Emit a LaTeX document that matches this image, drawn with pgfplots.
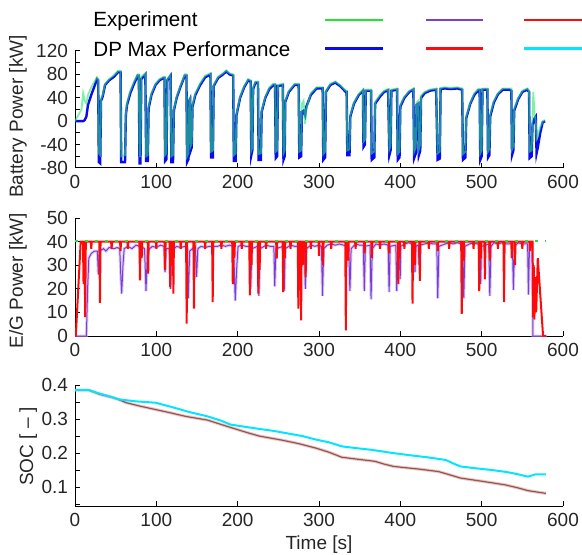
\documentclass[border=0pt]{standalone}
\usepackage{fontspec}
\setmainfont{Liberation Sans}
\usepackage{pgfplots}
\pgfplotsset{compat=1.18}
\usepackage{pgfplotstable}

\definecolor{cgreen}{RGB}{30,230,40}
\definecolor{cgreenb}{RGB}{40,230,110}
\definecolor{cblue}{RGB}{10,10,240}
\definecolor{cpurple}{RGB}{125,60,215}
\definecolor{clav}{RGB}{190,170,240}
\definecolor{cred}{RGB}{255,10,10}
\definecolor{ccyan}{RGB}{0,230,255}
\definecolor{cbrown}{RGB}{150,85,80}
\definecolor{cpink}{RGB}{225,180,180}

\pgfplotstableread{
t b g
0 0 0
8 0 20
10 0 48
12 2 35
14 8 30
16 28 45
20 45 58
24 60 68
27 72 75
28.5 70 72
29.3 -70 -55
31 -72 -58
32 35 38
34 42 45
37 62 64
42 70 72
48 76 79
53 84 86
56 84 86
56.8 -70 -60
61.5 -70 -58
62.5 10 12
64 28 32
68 48 52
72 62 66
77 78 80
78.5 78 80
79.3 -72 -60
80.5 -72 -60
81.5 72 76
86.5 80 82
87.5 -68 -60
89.5 -68 -58
90.5 22 25
94 45 48
99 62 64
104 70 72
109 74 76
110 74 76
110.8 -68 -58
112.5 -65 -55
113.5 70 72
117.5 78 80
118.5 -70 -60
120.5 -70 -58
121.5 18 20
125 40 42
130 60 62
135 78 80
137 78 80
137.8 -70 -60
139.5 -65 -55
140.5 35 38
141.5 38 40
142.3 -50 -42
143.5 -45 -38
144.5 25 28
148 45 48
154 62 65
160 75 78
166.5 80 82
167.3 -62 -52
169.5 -62 -50
170.5 60 62
176 74 76
182 80 82
186 85 87
190 80 82
194.5 78 80
195.3 -68 -58
197.5 -68 -55
198.5 10 12
203 40 42
208 58 60
213 70 72
216 68 70
216.8 -58 -50
218 -50 -45
219 55 58
222 66 68
225 66 68
225.8 -66 -56
228.5 -66 -55
229.5 16 18
234 40 42
239 55 58
244 62 64
246 62 64
246.8 -63 -52
248.5 -60 -50
249.5 60 62
255.5 62 64
256.3 -66 -55
257.8 -60 -50
258.5 33 35
263 50 52
270 62 64
275 62 64
275.8 -62 -52
278 -60 -50
279 16 30
281 18 35
283 10 -5
284.5 25 22
290 45 48
297 56 58
304.5 56 58
305.3 -66 -56
307.5 -62 -52
308.5 50 52
314 62 64
320 66 68
326 60 62
333 50 52
334 50 52
334.8 -58 -50
337.5 -58 -48
338.5 8 10
343 30 32
349 45 47
354 52 54
354.7 -44 -35
356.5 -40 -32
357.5 52 54
364 52 54
364.8 -66 -55
368 -62 -52
369 30 33
375 42 45
380 50 52
385 53 55
386.5 -58 -48
388 -50 -42
389 52 54
396 54 56
396.8 -66 -56
399 -62 -52
400 25 28
405 40 42
411 50 52
416 54 56
417 -63 -52
419 -55 -45
420 28 32
422 30 35
422.8 -58 -48
424.5 -50 -40
425.5 40 44
430 48 50
436 52 54
444 54 56
445.8 -66 -55
448.5 -64 -52
449.5 55 57
455 56 58
462 55 57
470 56 58
476 54 56
477 -66 -56
480 -62 -52
481 5 8
486 30 32
491 45 48
496 53 55
497.5 53 55
498.3 -66 -55
500 -60 -50
501 54 56
507 54 56
507.8 -62 -52
509.5 -58 -48
510.5 8 12
515 32 35
520 46 48
526 54 56
534 54 56
536.5 52 56
537.3 -58 -48
539 -50 -42
540 18 22
545 38 40
550 50 52
556 54 56
558.3 50 52
559 -63 -52
561.5 -60 -50
562.5 -5 10
563.5 -2 50
565 5 12
566.5 8 0
567.5 -55 -30
569 -45 -25
572 -20 -10
575 -2 0
578 0 2
}\toptable

\pgfplotstableread{
t v
0 0
1 0
7 40
9.8 40
10.5 22
11.3 40
11.8 40
12.5 8
13.3 40
19.4 40
20 37
20.6 40
30 40
30.7 14
31.4 40
44.4 40
45 37
45.6 40
55.4 40
56 36
56.6 40
64.4 40
65 37
65.6 40
79.2 40
79.9 23.6
80.6 40
81.4 40
82 33
82.6 40
89.4 40
90 26.4
90.6 40
99.4 40
100 37
100.6 40
110 40
110.7 28
111.4 40
116.3 40
117 20.7
117.7 40
118.4 40
119 30
119.6 40
120.4 40
121 18
121.6 40
129.4 40
130 37
130.6 40
136.6 40
137.3 5.2
138 40
145.6 40
146.3 11.6
147 40
159.4 40
160 37
160.6 40
168.6 40
169.3 14.4
170 40
179.4 40
180 37
180.6 40
193.3 40
194 22
194.7 40
195.4 40
196 33
196.6 40
204.4 40
205 37
205.6 40
214.3 40
215 17.2
215.7 40
216.4 40
217 30
217.6 40
224.7 40
225.4 18
226.1 40
226.5 40
227 28
227.6 40
234.4 40
235 37
235.6 40
247.3 40
248 32.8
248.7 40
255.3 40
256 18.6
256.7 40
257.4 40
258 33
258.6 40
264.4 40
265 37
265.6 40
273.9 40
274.6 11.6
275.3 40
277.3 40
278 6.6
278.7 40
279.4 40
280 30
280.6 40
283 40
283.6 25
284.2 40
289.4 40
290 37
290.6 40
299.4 40
300 34
300.6 40
304.4 40
305 30
305.6 40
314.4 40
315 37
315.6 40
332.3 40
333 2.4
333.7 40
335.4 40
336 32
336.6 40
344.4 40
345 37
345.6 40
355.4 40
356 35
356.6 40
364.4 40
365 33
365.6 40
374.4 40
375 37
375.6 40
385.4 40
386 35
386.6 40
396.8 40
397.5 22
398.2 40
398.5 40
399 33
399.6 40
404.4 40
405 37
405.6 40
414.3 40
415 13.7
415.7 40
417.4 40
418 30
418.6 40
423.3 40
424 23.4
424.7 40
434.4 40
435 37
435.6 40
445.4 40
446 36
446.6 40
459.4 40
460 37
460.6 40
474.8 40
475.5 9.4
476.2 40
477.4 40
478 32
478.6 40
489.4 40
490 37
490.6 40
496.3 40
497 19
497.7 40
498.4 40
499 33
499.6 40
503.3 40
504 24
504.7 40
509.4 40
510 32
510.6 40
519.4 40
520 37
520.6 40
526.8 40
527.5 14.4
528.2 40
536.4 40
537 33
537.6 40
540.4 40
541 30
541.6 40
549.4 40
550 37
550.6 40
558.8 40
559.5 36
560.2 40
562.6 40
563.3 8
564 30
564.8 7
566 25
567 10
569 33
575.5 0
579 0
}\redtable

\pgfplotstableread{
t v
0 0
14 0
15.5 20
17 33
20 35
24 36
27.5 36
28.7 26
30 36
35 37
38 36
42 37.5
48 37
52 37.5
55 37
56.5 24
57.4 18
59 30
60.5 37
65 38
70 37
75 38.5
79 38
80 35
81 38
85.5 37
87.3 19
89 36
95 38
100 37.5
105 38.5
109.5 38
110.7 27
112 37
116.5 37
117.6 20
118.8 36
125 38
130 37.5
135 38
138 37
139.3 16
141 36
148 38
149.5 25
151 37
155 38
160 37.5
165 38
168.5 38
169.5 34
170.5 38
175 38
180 38.5
185 38
190 38.5
195 38
197 15
199 30
200.5 38
205 38.5
210 38
214.8 38
216 20
217.5 37
224.5 38
226 17
227.5 37
235 38.5
240 38
244.5 38
245.6 21
247 37
256 38
257.2 19
258.5 37
265 38.5
270 38
275 38
276 33
277 38
282 38
283.2 20
284.5 37
290 38.5
295 38
300 38.5
303 38
304.3 17
305.8 37
310 38.5
315 39
320 38.5
325 39
330 38.5
336.5 38
338 19
339.5 37
345 39
350 38.5
354.5 38.5
355.7 19
357 38
362.8 38.5
364 15.5
365.5 37
370 39
375 38.5
380 39
385 38.5
386.2 18.6
387.5 38
394.5 38.5
395.6 19
397 38
399 38
399.8 24
400.6 38
405 39
410 39.5
417 39
418 27
419 38
422 38.5
423 30
424 38.5
430 39
435 39.5
440 39
444.8 39
446 16
447.5 38
455 39
460 39.5
465 39
470 39.5
476.8 39
478 16
479.5 38
485 39
490 39.5
495 39
498 39
498.8 22
499.8 38
508.8 39
510 17
511.5 38
515 39.5
520 39
525 39.5
530 39
537.8 39
539 19.5
540.5 38
545 39.5
550 39
556.5 39
557.5 17.5
558.8 38
560 39
562 39
563 0
580 0
}\purpletable

\pgfplotstableread{
t v
0 0.385
17 0.385
30 0.375
45 0.365
53.5 0.358
75 0.352
99 0.348
115 0.338
127 0.330
140 0.321
163 0.308
180 0.295
191 0.284
210 0.277
227 0.271
245 0.265
259 0.259
280 0.250
296 0.240
312 0.232
328 0.220
345 0.215
364 0.210
392 0.200
415 0.193
433 0.188
456 0.180
465 0.170
474 0.161
495 0.155
511 0.151
530 0.145
543 0.139
557 0.131
566 0.138
579 0.138
}\cyantable

\pgfplotstableread{
t v
0 0.385
17 0.385
30 0.373
45 0.364
53 0.358
63 0.348
80 0.338
99 0.328
118 0.318
136 0.308
163 0.297
180 0.284
200 0.269
215 0.258
227 0.250
255 0.238
275 0.228
296 0.215
312 0.203
328 0.188
345 0.183
369 0.176
380 0.168
392 0.161
424 0.153
447 0.146
460 0.137
474 0.127
502 0.117
529 0.107
545 0.098
557 0.090
579 0.082
}\browntable

\pgfplotsset{
  mystyle/.style={
    scale only axis, width=244pt,
    xmin=0, xmax=600, xtick={0,100,...,600},
    axis x line*=bottom, axis y line*=left,
    tick align=inside,
    major tick length=2.5pt, minor tick length=2.5pt,
    every tick/.style={black, line width=0.5pt},
    axis line style={line width=0.5pt, black},
    /pgf/number format/assume math mode=true,
    every tick label/.append style={font=\fontsize{9.5}{11}\selectfont, text=black!85},
    label style={font=\fontsize{9.5}{11}\selectfont, text=black!85},
    ylabel style={anchor=center},
  }
}

\begin{document}
\begin{tikzpicture}
\useasboundingbox (0,0) rectangle (291pt,-277.5pt);

% Top: battery power
\begin{axis}[mystyle, at={(37.5pt,-84pt)}, anchor=south west, height=58.5pt,
  ymin=-80, ymax=120, ytick={-80,-40,0,40,80,120}, minor ytick={-60,-20,20,60,100},
  ylabel={Battery Power [kW]},
  ylabel style={at={(axis description cs:-0.117,0.44)}}]
\addplot[cblue, line width=1.2pt] table[x=t, y=b] {\toptable};
\addplot[cgreenb, line width=0.9pt, opacity=0.6] table[x=t, y=g] {\toptable};
\end{axis}

% Middle: E/G power
\begin{axis}[mystyle, at={(37.5pt,-168pt)}, anchor=south west, height=59pt,
  ymin=0, ymax=50, ytick={0,10,...,50},
  ylabel={E/G Power [kW]},
  ylabel style={at={(axis description cs:-0.117,0.47)}}]
\addplot[clav, line width=1.5pt, opacity=0.6] table[x=t, y=v] {\purpletable};
\addplot[cpurple, line width=0.5pt] table[x=t, y=v] {\purpletable};
\addplot[cred, line width=1pt] table[x=t, y=v] {\redtable};
\addplot[cgreen, line width=1pt, dash pattern=on 1.5pt off 3.5pt] coordinates {(0,40.2) (578,40.2)};
\end{axis}

% Bottom: SOC
\begin{axis}[mystyle, at={(37.5pt,-253pt)}, anchor=south west, height=60.5pt,
  ymin=0.045, ymax=0.4, ytick={0.1,0.2,0.3,0.4}, minor ytick={0.05,0.15,0.25,0.35},
  yticklabel style={/pgf/number format/fixed, /pgf/number format/precision=1},
  ylabel={SOC [ -- ]},
  ylabel style={at={(axis description cs:-0.096,0.49)}},
  xlabel={Time [s]},
  xlabel style={yshift=2.5pt}]
\addplot[cpink, line width=1.6pt, opacity=0.7] table[x=t, y=v] {\browntable};
\addplot[cbrown, line width=0.6pt] table[x=t, y=v] {\browntable};
\addplot[ccyan, line width=1pt] table[x=t, y=v] {\cyantable};
\end{axis}

% Legend
\node[anchor=west, inner sep=0pt, font=\fontsize{10.3}{12}\selectfont] at (46.5pt,-10.8pt) {Experiment};
\node[anchor=west, inner sep=0pt, font=\fontsize{10.3}{12}\selectfont] at (46.5pt,-24.7pt) {DP Max Performance};
\draw[draw=cgreen, line width=0.75pt] (162.5pt,-9.9pt) -- (191.5pt,-9.9pt);
\draw[draw=cpurple, line width=0.75pt] (213pt,-9.9pt) -- (241.5pt,-9.9pt);
\draw[draw=cred, line width=0.75pt] (262pt,-9.9pt) -- (291pt,-9.9pt);
\draw[draw=cblue, line width=1.2pt] (162.5pt,-24.2pt) -- (191.5pt,-24.2pt);
\draw[draw=cred, line width=1.2pt] (213pt,-24.2pt) -- (241.5pt,-24.2pt);
\draw[draw=ccyan, line width=1.2pt] (262pt,-24.2pt) -- (291pt,-24.2pt);
\end{tikzpicture}
\end{document}
